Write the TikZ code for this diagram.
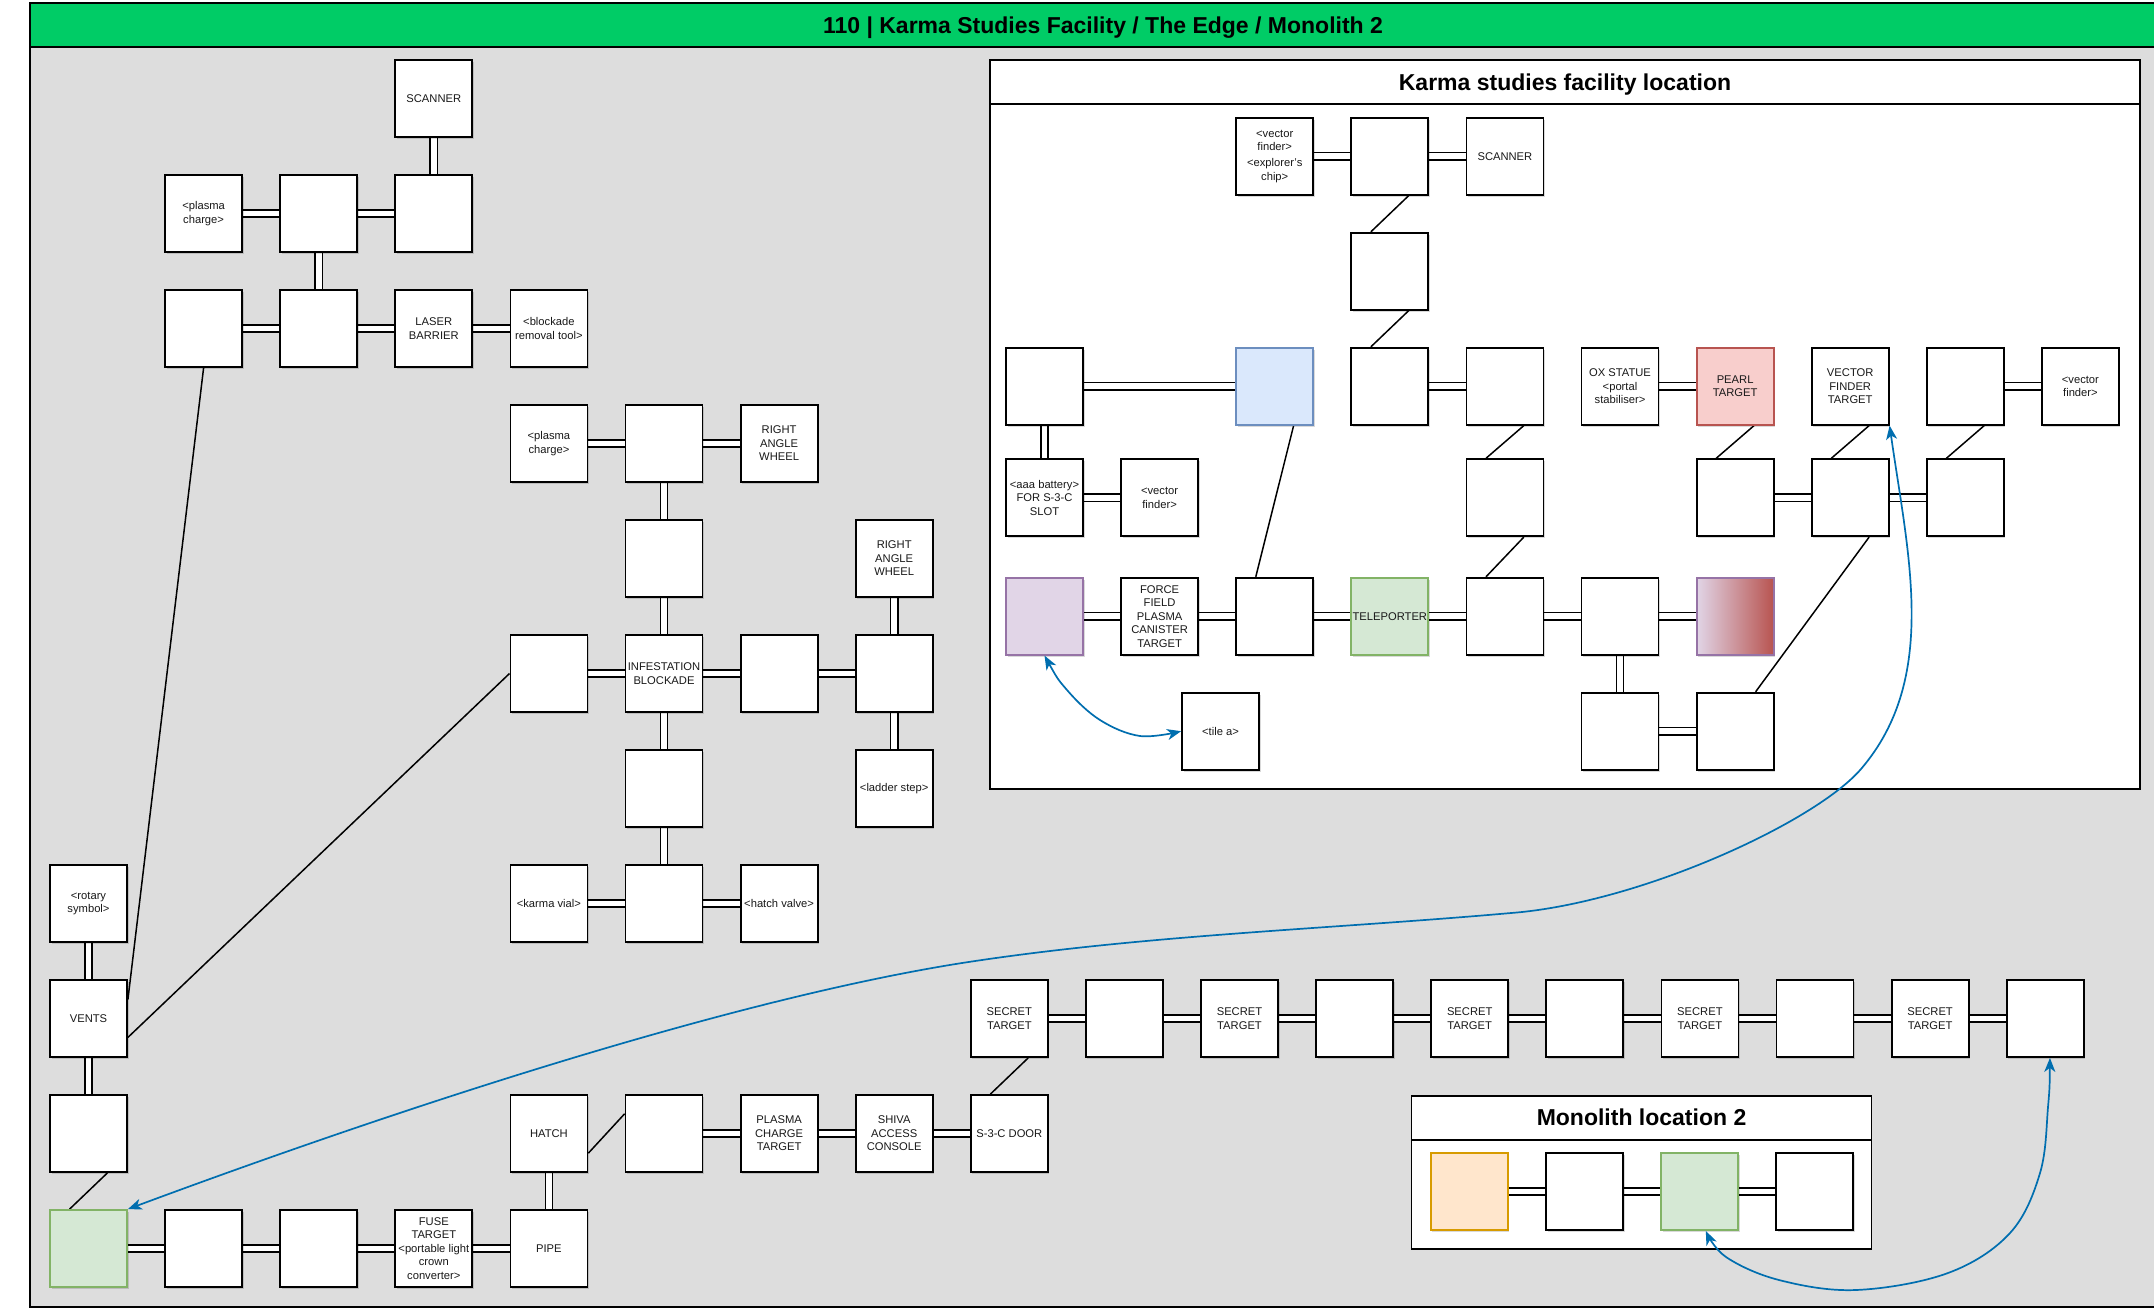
\documentclass[tikz,border=0pt]{standalone}
\usepackage{fontspec}
\setmainfont{Liberation Sans}
\usetikzlibrary{calc,shadows,arrows.meta}
\pgfdeclarelayer{back}
\pgfdeclarelayer{links}
\pgfsetlayers{back,links,main}

\definecolor{titlegreen}{HTML}{00CC66}
\definecolor{panelgray}{HTML}{DDDDDD}
\definecolor{bluef}{HTML}{DAE8FC}\definecolor{blued}{HTML}{6C8EBF}
\definecolor{redf}{HTML}{F8CECC}\definecolor{redd}{HTML}{B85450}
\definecolor{greenf}{HTML}{D5E8D4}\definecolor{greend}{HTML}{82B366}
\definecolor{purplef}{HTML}{E1D5E7}\definecolor{purpled}{HTML}{9673A6}
\definecolor{orangef}{HTML}{FFE6CC}\definecolor{oranged}{HTML}{D79B00}
\definecolor{arrowblue}{HTML}{006EAF}

\newcommand\boxfont{\fontsize{11.2}{13.5}\selectfont}
\newcommand\headfont{\fontsize{23}{27}\selectfont\bfseries}

\tikzset{
  room/.style={draw=black, line width=1.8pt, fill=white, minimum width=77pt, minimum height=77pt,
    inner sep=0.3pt, align=center, font=\boxfont, text=black!90,
    general shadow={shadow xshift=1.5pt, shadow yshift=-2pt, fill=black, opacity=0.15}},
  bluebox/.style={room, fill=bluef, draw=blued},
  redbox/.style={room, fill=redf, draw=redd},
  greenbox/.style={room, fill=greenf, draw=greend},
  purplebox/.style={room, fill=purplef, draw=purpled},
  orangebox/.style={room, fill=orangef, draw=oranged},
  gradbox/.style={room, draw=purpled, left color=purplef, right color=redd},
  dlink/.style={draw=black, line width=1.6pt, double=white, double distance=5.6pt},
  swire/.style={draw=black, line width=1.5pt},
  warp/.style={draw=arrowblue, line width=1.7pt,
    {Stealth[length=14pt,width=11pt,inset=4pt]}-{Stealth[length=14pt,width=11pt,inset=4pt]}},
  head/.style={font=\headfont, text=black, anchor=base, inner sep=0pt},
}
\newcommand\dwire[2]{\draw[swire] ($(#1.south west)!0.74!(#1.south east)$) -- ($(#2.north west)!0.26!(#2.north east)$);}

\begin{document}
\begin{tikzpicture}[x=1pt,y=-1pt]
\useasboundingbox (0,0) rectangle (2154,1312);

\foreach \c in {0,...,17}{\foreach \r in {0,...,10}{\coordinate (g\c-\r) at ({88.5+115.1*\c},{98.5+115*\r});}}
\foreach \k in {0,...,9}{\foreach \m in {0,...,5}{\coordinate (h\k-\m) at ({1044.5+115.1*\k},{156.2+115*\m});}}
\foreach \k in {0,...,9}{\coordinate (h\k-3) at ({1044.5+115.1*\k},497.7);}

\begin{pgfonlayer}{back}
  \draw[line width=1.8pt, fill=panelgray] (30,3) rectangle (2185,1307);
  \draw[line width=1.8pt, fill=titlegreen] (30,3) rectangle (2185,47);
  \draw[line width=1.8pt, fill=white] (990,60) rectangle (2140,789);
  \draw[line width=1.8pt] (990,104) -- (2140,104);
  \draw[line width=1.8pt, fill=white] (1411.5,1096) rectangle (1871.5,1249);
  \draw[line width=1.8pt] (1411.5,1140) -- (1871.5,1140);
\end{pgfonlayer}

\node[head] (title) at (1103,33.5) {110 | Karma Studies Facility / The Edge / Monolith 2};
\node[head] (karmahead) at (1565,90) {Karma studies facility location};
\node[head] (monohead) at (1641.5,1125.7) {Monolith location 2};

% ---------- outer map ----------
\node[room] (o3r0) at (g3-0) {SCANNER};
\node[room] (o1r1) at (g1-1) {<plasma\\charge>};
\node[room] (o2r1) at (g2-1) {};
\node[room] (o3r1) at (g3-1) {};
\node[room] (o1r2) at (g1-2) {};
\node[room] (o2r2) at (g2-2) {};
\node[room] (o3r2) at (g3-2) {LASER\\BARRIER};
\node[room] (o4r2) at (g4-2) {<blockade\\removal tool>};
\node[room] (o4r3) at (g4-3) {<plasma\\charge>};
\node[room] (o5r3) at (g5-3) {};
\node[room] (o6r3) at (g6-3) {RIGHT\\ANGLE\\WHEEL};
\node[room] (o5r4) at (g5-4) {};
\node[room] (o7r4) at (g7-4) {RIGHT\\ANGLE\\WHEEL};
\node[room] (o4r5) at (g4-5) {};
\node[room] (o5r5) at (g5-5) {INFESTATION\\BLOCKADE};
\node[room] (o6r5) at (g6-5) {};
\node[room] (o7r5) at (g7-5) {};
\node[room] (o5r6) at (g5-6) {};
\node[room] (o7r6) at (g7-6) {<ladder step>};
\node[room] (o0r7) at (g0-7) {<rotary\\symbol>};
\node[room] (o4r7) at (g4-7) {<karma vial>};
\node[room] (o5r7) at (g5-7) {};
\node[room] (o6r7) at (g6-7) {<hatch valve>};
\node[room] (o0r8) at (g0-8) {VENTS};
\node[room] (o8r8) at (g8-8) {SECRET\\TARGET};
\node[room] (o9r8) at (g9-8) {};
\node[room] (o10r8) at (g10-8) {SECRET\\TARGET};
\node[room] (o11r8) at (g11-8) {};
\node[room] (o12r8) at (g12-8) {SECRET\\TARGET};
\node[room] (o13r8) at (g13-8) {};
\node[room] (o14r8) at (g14-8) {SECRET\\TARGET};
\node[room] (o15r8) at (g15-8) {};
\node[room] (o16r8) at (g16-8) {SECRET\\TARGET};
\node[room] (o17r8) at (g17-8) {};
\node[room] (o0r9) at (g0-9) {};
\node[room] (o4r9) at (g4-9) {HATCH};
\node[room] (o5r9) at (g5-9) {};
\node[room] (o6r9) at (g6-9) {PLASMA\\CHARGE\\TARGET};
\node[room] (o7r9) at (g7-9) {SHIVA\\ACCESS\\CONSOLE};
\node[room] (o8r9) at (g8-9) {S-3-C DOOR};
\node[greenbox] (o0r10) at (g0-10) {};
\node[room] (o1r10) at (g1-10) {};
\node[room] (o2r10) at (g2-10) {};
\node[room] (o3r10) at (g3-10) {FUSE\\TARGET\\<portable light\\crown\\converter>};
\node[room] (o4r10) at (g4-10) {PIPE};

% ---------- karma studies facility ----------
\node[room] (i2m0) at (h2-0) {<vector\\finder>\\[2.5pt]<explorer's\\chip>};
\node[room] (i3m0) at (h3-0) {};
\node[room] (i4m0) at (h4-0) {SCANNER};
\node[room] (i3m1) at (h3-1) {};
\node[room] (i0m2) at (h0-2) {};
\node[bluebox] (i2m2) at (h2-2) {};
\node[room] (i3m2) at (h3-2) {};
\node[room] (i4m2) at (h4-2) {};
\node[room] (i5m2) at (h5-2) {OX STATUE\\<portal\\stabiliser>};
\node[redbox] (i6m2) at (h6-2) {PEARL\\TARGET};
\node[room] (i7m2) at (h7-2) {VECTOR\\FINDER\\TARGET};
\node[room] (i8m2) at (h8-2) {};
\node[room] (i9m2) at (h9-2) {<vector\\finder>};
\node[room] (i0m3) at (h0-3) {<aaa battery>\\FOR S-3-C\\SLOT};
\node[room] (i1m3) at (h1-3) {<vector\\finder>};
\node[room] (i4m3) at (h4-3) {};
\node[room] (i6m3) at (h6-3) {};
\node[room] (i7m3) at (h7-3) {};
\node[room] (i8m3) at (h8-3) {};
\node[purplebox] (i0m4) at (h0-4) {};
\node[room] (i1m4) at (h1-4) {FORCE\\FIELD\\PLASMA\\CANISTER\\TARGET};
\node[room] (i2m4) at (h2-4) {};
\node[greenbox] (i3m4) at (h3-4) {TELEPORTER};
\node[room] (i4m4) at (h4-4) {};
\node[room] (i5m4) at (h5-4) {};
\node[gradbox] (i6m4) at (h6-4) {};
\node[room] (tilea) at (1220.5,731.2) {<tile a>};
\node[room] (i5m5) at (h5-5) {};
\node[room] (i6m5) at (h6-5) {};

% ---------- monolith ----------
\node[orangebox] (mo1) at (1469.2,1191.5) {};
\node[room] (mo2) at (1584.5,1191.5) {};
\node[greenbox] (mo3) at (1699.5,1191.5) {};
\node[room] (mo4) at (1814.7,1191.5) {};

\begin{pgfonlayer}{links}
  \foreach \a/\b in {o3r0/o3r1, o1r1/o2r1, o2r1/o3r1, o2r1/o2r2, o1r2/o2r2, o2r2/o3r2, o3r2/o4r2,
      o4r3/o5r3, o5r3/o6r3, o5r3/o5r4, o5r4/o5r5, o4r5/o5r5, o5r5/o6r5, o6r5/o7r5, o7r4/o7r5,
      o7r5/o7r6, o5r5/o5r6, o5r6/o5r7, o4r7/o5r7, o5r7/o6r7, o0r7/o0r8, o0r8/o0r9,
      o0r10/o1r10, o1r10/o2r10, o2r10/o3r10, o3r10/o4r10, o4r9/o4r10,
      o5r9/o6r9, o6r9/o7r9, o7r9/o8r9,
      o8r8/o9r8, o9r8/o10r8, o10r8/o11r8, o11r8/o12r8, o12r8/o13r8, o13r8/o14r8, o14r8/o15r8,
      o15r8/o16r8, o16r8/o17r8,
      i2m0/i3m0, i3m0/i4m0, i0m2/i2m2, i3m2/i4m2, i5m2/i6m2, i8m2/i9m2, i0m2/i0m3, i0m3/i1m3,
      i6m3/i7m3, i7m3/i8m3, i0m4/i1m4, i1m4/i2m4, i2m4/i3m4, i3m4/i4m4, i4m4/i5m4, i5m4/i6m4,
      i5m4/i5m5, i5m5/i6m5, mo1/mo2, mo2/mo3, mo3/mo4}
    {\draw[dlink] (\a) -- (\b);}
  \draw[swire] (o1r2.south) -- ($(o0r8.north east)!0.26!(o0r8.south east)$);
  \draw[swire] (o4r5.west) -- ($(o0r8.north east)!0.74!(o0r8.south east)$);
  \dwire{o0r9}{o0r10}
  \draw[swire] ($(o4r9.north east)!0.75!(o4r9.south east)$) -- ($(o5r9.north west)!0.25!(o5r9.south west)$);
  \dwire{o8r8}{o8r9}
  \dwire{i3m0}{i3m1}
  \dwire{i3m1}{i3m2}
  \dwire{i4m2}{i4m3}
  \dwire{i4m3}{i4m4}
  \dwire{i6m2}{i6m3}
  \dwire{i7m2}{i7m3}
  \dwire{i8m2}{i8m3}
  \dwire{i2m2}{i2m4}
  \draw[swire] ($(i7m3.south west)!0.74!(i7m3.south east)$) -- ($(i6m5.north west)!0.76!(i6m5.north east)$);
\end{pgfonlayer}

% ---------- blue connectors ----------
\draw[warp] (i7m2.south east) .. controls (1908,555) and (1939,678) .. (1861,769)
  .. controls (1815.5,822) and (1640,903) .. (1511,913)
  .. controls (1331,929) and (1142,935) .. (962,963)
  .. controls (715,1002) and (362,1122) .. (o0r10.north east);
\draw[warp] plot[smooth, tension=0.6] coordinates {($(o17r8.south west)!0.56!(o17r8.south east)$)
  (2048,1107) (2040,1173) (2010,1233) (1948,1273) (1856,1290) (1779,1280) (1726,1257)
  ($(mo3.south west)!0.58!(mo3.south east)$)};
\draw[warp] plot[smooth, tension=0.6] coordinates {(i0m4.south) (1067,690) (1100,720) (1140,736) (tilea.west)};
\end{tikzpicture}
\end{document}
